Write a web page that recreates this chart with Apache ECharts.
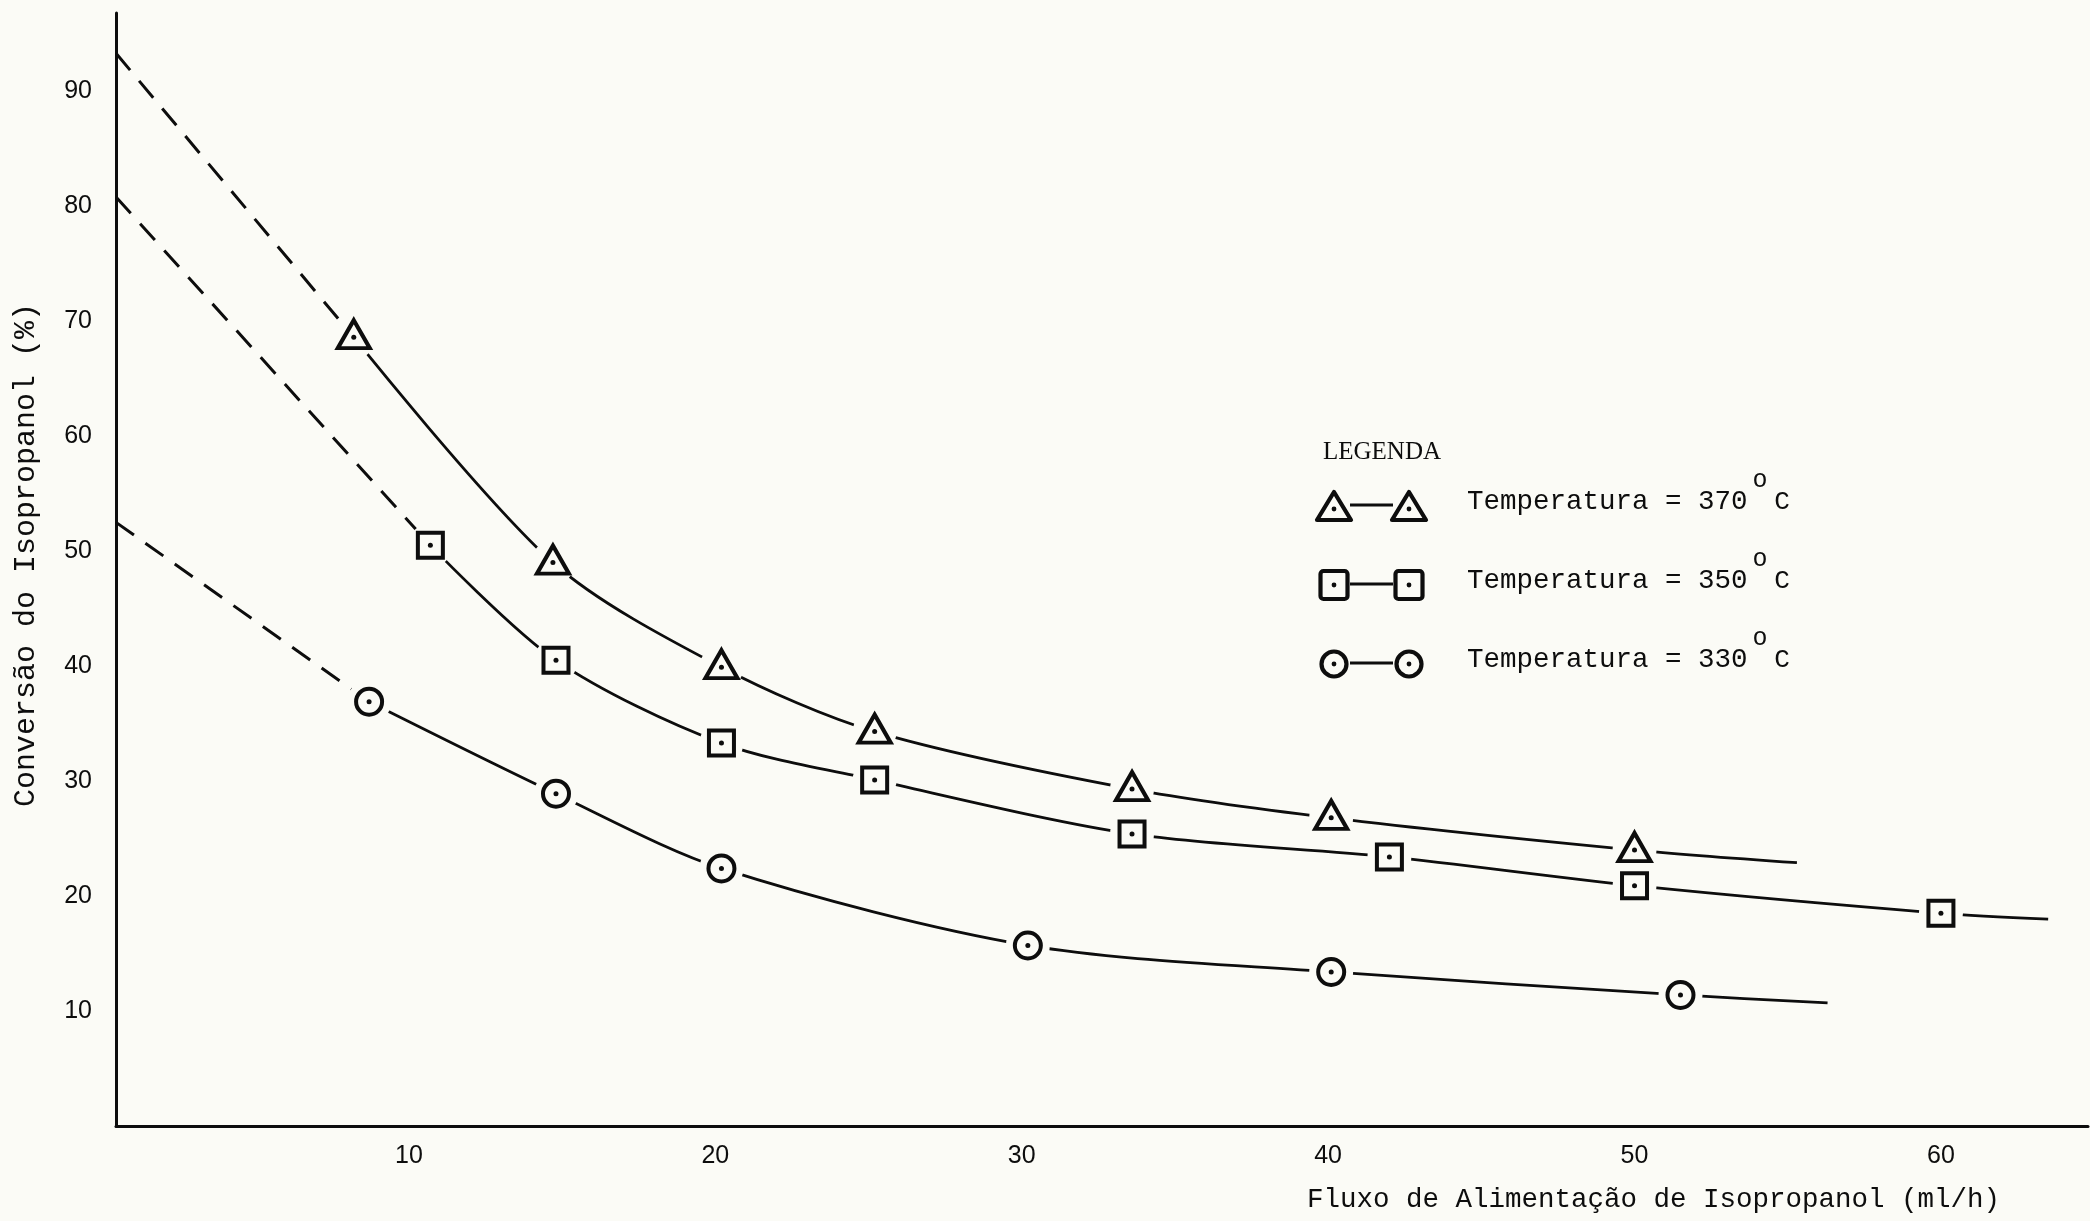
<!DOCTYPE html>
<html><head><meta charset="utf-8">
<script src="https://cdn.jsdelivr.net/npm/echarts@6/dist/echarts.min.js"></script>
<style>html,body{margin:0;padding:0;background:#fbfbf6;}#chart{width:2090px;height:1221px;}</style>
</head><body><div id="chart"></div>
<script>
// ---- data ----
const flow370 = [8.2, 14.7, 20.2, 25.2, 33.6, 40.1, 50.0];
const conv370 = [68.6, 49.0, 39.9, 34.3, 29.3, 26.8, 24.0];
const head370 = [0.44, 93.3];   // extrapolated (dashed) start at the axis
const tail370 = [55.3, 22.9];   // end of the drawn curve

const flow350 = [10.7, 14.8, 20.2, 25.2, 33.6, 42.0, 50.0, 60.0];
const conv350 = [50.5, 40.5, 33.3, 30.1, 25.4, 23.4, 20.9, 18.5];
const head350 = [0.44, 80.8];
const tail350 = [63.5, 18.0];

const flow330 = [8.7, 14.8, 20.2, 30.2, 40.1, 51.5];
const conv330 = [36.9, 28.9, 22.4, 15.7, 13.4, 11.4];
const head330 = [0.44, 52.5];
const tail330 = [56.3, 10.7];

const xTicks = [10, 20, 30, 40, 50, 60];
const yTicks = [10, 20, 30, 40, 50, 60, 70, 80, 90];
const tempNames = ['370', '350', '330'];
const legendTitle = 'LEGENDA';
const xTitle = 'Fluxo de Alimentação de Isopropanol (ml/h)';
const yTitle = 'Conversão do Isopropanol (%)';

// ---- styles ----
const BG = '#fbfbf6';
const INK = '#0d0d0d';
const MONO = '"Liberation Mono", "DejaVu Sans Mono", monospace';
const NUM = '"Liberation Sans Narrow", "Liberation Sans", Arial, sans-serif';

function pts(xs, ys) { return xs.map((x, i) => [x, ys[i]]); }

const groups = [
  { name: tempNames[0], xs: flow370, ys: conv370, head: head370, tail: tail370, symbol: 'triangle', size: [32, 28], offset: [0, -3] },
  { name: tempNames[1], xs: flow350, ys: conv350, head: head350, tail: tail350, symbol: 'rect', size: [25, 25], offset: [0, 0] },
  { name: tempNames[2], xs: flow330, ys: conv330, head: head330, tail: tail330, symbol: 'circle', size: [26, 26], offset: [0, 0] }
];

const series = [];
groups.forEach(g => {
  const marks = pts(g.xs, g.ys);
  series.push({
    name: g.name + ' dashed', type: 'line', data: [g.head, marks[0]],
    showSymbol: false, symbol: 'none', z: 2, silent: true,
    lineStyle: { color: INK, width: 3, type: [22, 14] }
  });
  series.push({
    name: g.name + ' curve', type: 'line', data: marks.concat([g.tail]),
    showSymbol: false, symbol: 'none', smooth: 0.3, z: 2, silent: true,
    lineStyle: { color: INK, width: 2.8 }
  });
  series.push({
    name: g.name + ' gap', type: 'scatter', data: marks, symbol: 'circle', symbolSize: 44,
    z: 3, silent: true, itemStyle: { color: BG, opacity: 1 }
  });
  series.push({
    name: 'Temperatura = ' + g.name + ' °C', type: 'scatter', data: marks, symbol: g.symbol,
    symbolSize: g.size, symbolOffset: g.offset, z: 4, silent: true,
    itemStyle: { color: BG, borderColor: INK, borderWidth: 4, opacity: 1 }
  });
  series.push({
    name: g.name + ' dot', type: 'scatter', data: marks, symbol: 'circle', symbolSize: 5,
    z: 5, silent: true, itemStyle: { color: INK, opacity: 1 }
  });
});

// ---- legend drawn as graphic elements ----
const rowY = [506, 585, 664];
const symX = [1334, 1409];
const graphic = [];
graphic.push({ type: 'text', x: 1323, y: 452, z: 10,
  style: { text: legendTitle, fill: INK, font: '25px "Liberation Serif", "Times New Roman", serif',
           align: 'left', verticalAlign: 'middle', textAlign: 'left', textVerticalAlign: 'middle' } });
function legendSymbol(kind, cx, cy) {
  const st = { fill: BG, stroke: INK, lineWidth: 4.2, lineJoin: 'round' };
  if (kind === 'triangle') {
    return { type: 'polygon', z: 10, shape: { points: [[cx, cy - 14], [cx + 17, cy + 14], [cx - 17, cy + 14]] }, style: st };
  } else if (kind === 'rect') {
    return { type: 'rect', z: 10, shape: { x: cx - 13.5, y: cy - 14, width: 27, height: 28, r: 3 }, style: st };
  }
  return { type: 'circle', z: 10, shape: { cx: cx, cy: cy, r: 12.5 }, style: st };
}
groups.forEach((g, i) => {
  const y = rowY[i];
  graphic.push({ type: 'line', z: 9, shape: { x1: symX[0] + 16, y1: y - 1, x2: symX[1] - 16, y2: y - 1 },
                 style: { stroke: INK, lineWidth: 3 } });
  symX.forEach(cx => {
    graphic.push(legendSymbol(g.symbol, cx, y));
    const dy = g.symbol === 'triangle' ? 3 : 0;
    graphic.push({ type: 'circle', z: 11, shape: { cx: cx, cy: y + dy, r: 2.4 }, style: { fill: INK } });
  });
  graphic.push({ type: 'text', x: 1467, y: y - 4, z: 10,
    style: { text: 'Temperatura = ' + g.name, fill: INK, font: '27.5px ' + MONO,
             align: 'left', verticalAlign: 'middle', textAlign: 'left', textVerticalAlign: 'middle' } });
  graphic.push({ type: 'text', x: 1760, y: y - 26, z: 10,
    style: { text: 'o', fill: INK, font: '25px ' + MONO,
             align: 'center', verticalAlign: 'middle', textAlign: 'center', textVerticalAlign: 'middle' } });
  graphic.push({ type: 'text', x: 1782, y: y - 4, z: 10,
    style: { text: 'C', fill: INK, font: '26px ' + MONO,
             align: 'center', verticalAlign: 'middle', textAlign: 'center', textVerticalAlign: 'middle' } });
});

const chart = echarts.init(document.getElementById('chart'), null, { renderer: 'canvas' });
chart.setOption({
  animation: false,
  backgroundColor: BG,
  grid: { left: 116, right: 2, top: 13, bottom: 95, containLabel: false },
  xAxis: {
    type: 'value', min: 0.44, max: 64.8,
    name: xTitle, nameLocation: 'end', nameGap: -88,
    nameTextStyle: { color: INK, fontFamily: MONO, fontSize: 27.5, align: 'right', verticalAlign: 'top', padding: [60, 0, 0, 0] },
    axisLine: { show: true, lineStyle: { color: INK, width: 3 } },
    axisTick: { show: false },
    splitLine: { show: false },
    axisLabel: { customValues: xTicks, color: INK, fontFamily: NUM, fontSize: 25, margin: 18 }
  },
  yAxis: {
    type: 'value', min: 0, max: 96.8,
    name: yTitle, nameLocation: 'middle', nameGap: 75,
    nameTextStyle: { color: INK, fontFamily: MONO, fontSize: 30, padding: [0, 0, 0, 29] },
    axisLine: { show: true, lineStyle: { color: INK, width: 3 } },
    axisTick: { show: false },
    splitLine: { show: false },
    axisLabel: { customValues: yTicks, color: INK, fontFamily: NUM, fontSize: 25, margin: 24 }
  },
  series: series,
  graphic: graphic
});
</script></body></html>
